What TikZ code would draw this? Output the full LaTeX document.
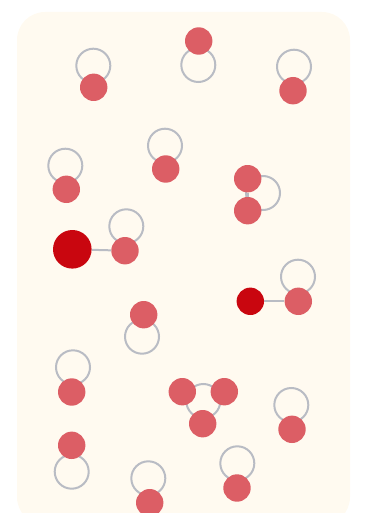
\documentclass[tikz,border=0pt]{standalone}
\usepackage{tikz}

\definecolor{bgcream}{HTML}{FFFAF0}
\definecolor{dotred}{HTML}{DC5E65}
\definecolor{hubred}{HTML}{C9060F}
\definecolor{ringgrey}{HTML}{B9BCC4}

\begin{document}
\begin{tikzpicture}[
    x=1pt, y=-1pt,
    ring/.style={circle, draw=ringgrey, line width=2pt, inner sep=0pt,
                 minimum size=34pt},
    dot/.style={circle, fill=dotred, inner sep=0pt, minimum size=27.4pt},
    hub/.style={circle, fill=hubred, inner sep=0pt, minimum size=27.4pt},
    bighub/.style={hub, minimum size=38.6pt},
    edge/.style={ringgrey, line width=2pt}
]

% =========================================================
% PAGE AND BACKGROUND
% =========================================================
\clip (0,0) rectangle (377,513);
\fill[bgcream, rounded corners=28pt] (17,12) rectangle (350,525);

% =========================================================
% LOOPS (drawn first, dots sit on top)
% =========================================================
\node[ring] (l1)  at (93.3,65.7)  {};
\node[ring] (l2)  at (198.3,65)   {};
\node[ring] (l3)  at (294,66.7)   {};
\node[ring] (l4)  at (65.3,165.7) {};
\node[ring] (l5)  at (165,145.7)  {};
\node[ring] (l6)  at (263,193)    {};
\node[ring] (l7)  at (126.3,226.3){};
\node[ring] (l8)  at (298,276.7)  {};
\node[ring] (l9)  at (142,336.7)  {};
\node[ring] (l10) at (73,367.3)   {};
\node[ring] (lt)  at (203.3,401)  {};
\node[ring] (l11) at (291.3,405)  {};
\node[ring] (l12) at (71.7,471.7) {};
\node[ring] (l13) at (148.3,478.3){};
\node[ring] (l14) at (237.3,463.3){};

% =========================================================
% DOTS
% =========================================================
\node[dot] (d1)  at (93.7,87.3)  {};
\node[dot] (d2)  at (198.7,41)   {};
\node[dot] (d3)  at (293,90.7)   {};
\node[dot] (d4)  at (66.3,189.3) {};
\node[dot] (d5)  at (165.7,169)  {};
\node[dot] (d6a) at (247.7,178.7){};
\node[dot] (d6b) at (247.7,210.7){};
\node[bighub] (big) at (72.3,249.3) {};
\node[dot] (d7)  at (125,250.7)  {};
\node[hub] (hb)  at (250.3,301.3){};
\node[dot] (d8)  at (298.3,301.3){};
\node[dot] (d9)  at (143.7,314.7){};
\node[dot] (d10) at (71.7,392)   {};
\node[dot] (t1)  at (182.3,391.7){};
\node[dot] (t2)  at (224.3,391.7){};
\node[dot] (t3)  at (202.7,423.7){};
\node[dot] (d11) at (292,429.3)  {};
\node[dot] (d12) at (71.7,445.3) {};
\node[dot] (d13) at (149.7,502.7){};
\node[dot] (d14) at (237,488)    {};

% =========================================================
% EDGES
% =========================================================
\draw[edge] (d6a) -- (d6b);
\draw[edge] (big) -- (d7);
\draw[edge] (hb) -- (d8);

\end{tikzpicture}
\end{document}
